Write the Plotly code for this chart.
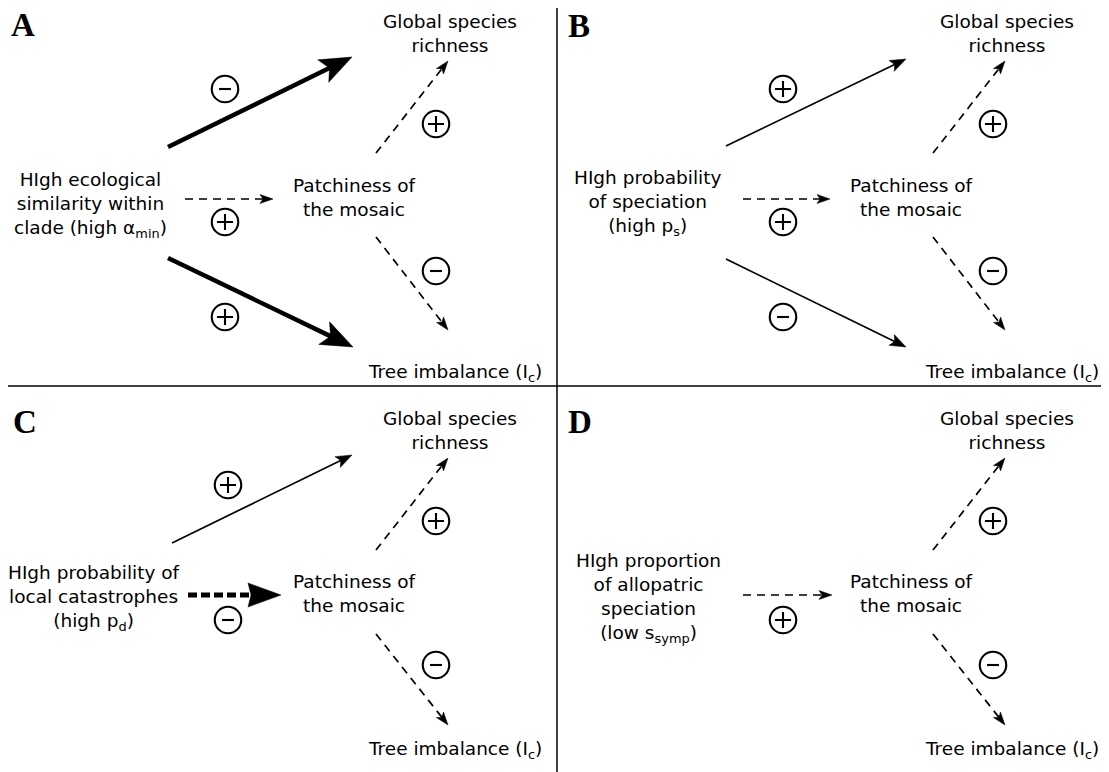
import numpy as np
import plotly.graph_objects as go

W, H = 1109, 772
PAGE_MARGIN = 8  # default body margin of the html page

# ---------------- data ----------------
panel_letters = ["A", "B", "C", "D"]
letter_x = [23, 579, 25, 580]
letter_y = [25, 26, 422, 422]

source_labels = [
    "HIgh ecological<br>similarity within<br>clade (high α<sub>min</sub>)",
    "HIgh probability<br>of speciation<br>(high p<sub>s</sub>)",
    "HIgh probability of<br>local catastrophes<br>(high p<sub>d</sub>)",
    "HIgh proportion<br>of allopatric<br>speciation<br>(low s<sub>symp</sub>)",
]
source_x = [90, 647, 94, 648]
source_y = [205, 203, 598, 598]

richness_label = "Global species<br>richness"
patch_label = "Patchiness of<br>the mosaic"
imbalance_label = "Tree imbalance (I<sub>c</sub>)"
richness_x = [450, 1007, 450, 1007]
richness_y = [33, 33, 430, 430]
patch_x = [354, 911, 354, 911]
patch_y = [197, 197, 593, 593]
imbal_x = [455, 1012, 455, 1012]
imbal_y = [373, 373, 750, 750]

# arrows: start -> tip
arrow_x0 = [168, 168, 185, 376, 376, 726, 726, 743, 933, 933, 172, 188, 376, 376, 743, 933, 933]
arrow_y0 = [147, 258, 199, 153, 237, 146, 259, 199, 153, 237, 543, 595, 550, 634, 595, 550, 634]
arrow_x1 = [352, 353, 273, 448, 448, 906, 906, 830, 1005, 1005, 352, 281, 448, 448, 832, 1005, 1005]
arrow_y1 = [57, 347, 199, 61, 330, 59, 347, 199, 61, 330, 455, 595, 458, 725, 595, 458, 725]
arrow_style = ["thick", "thick", "dash", "dash", "dash",
               "thin", "thin", "dash", "dash", "dash",
               "thin", "thickdash", "dash", "dash",
               "dash", "dash", "dash"]

# sign circles
sign_x = [225, 225, 225, 436, 436, 783, 783, 783, 993, 993, 228, 228, 436, 436, 783, 993, 993]
sign_y = [89, 222, 317, 124, 271, 89, 222, 317, 124, 271, 485, 620, 521, 665, 620, 521, 665]
sign_kind = ["-", "+", "+", "+", "-", "+", "+", "-", "+", "-", "+", "-", "+", "-", "+", "+", "-"]

# ---------------- styles ----------------
STY = {
    # width, dash, head length, head half width, notch
    "thick": (4.5, "solid", 32, 12.5, 7),
    "thin": (1.7, "solid", 16, 6, 3.5),
    "dash": (1.7, "8px,6px", 13, 4.5, 3),
    "thickdash": (5, "9px,4px", 33, 12, 3),
}
FONT = "DejaVu Sans"
FS = 18.5

fig = go.Figure()
shapes = []

for x0, y0, x1, y1, st in zip(arrow_x0, arrow_y0, arrow_x1, arrow_y1, arrow_style):
    lw, dash, L, hw, notch = STY[st]
    d = np.array([x1 - x0, y1 - y0], dtype=float)
    u = d / np.linalg.norm(d)
    n = np.array([-u[1], u[0]])
    tip = np.array([x1, y1], dtype=float)
    end = tip - u * (L - notch - 1)
    fig.add_trace(go.Scatter(x=[x0, end[0]], y=[y0, end[1]], mode="lines",
                             line=dict(color="black", width=lw, dash=dash),
                             hoverinfo="skip"))
    b1 = tip - u * L + n * hw
    b2 = tip - u * (L - notch)
    b3 = tip - u * L - n * hw
    path = "M{:.2f},{:.2f} L{:.2f},{:.2f} L{:.2f},{:.2f} L{:.2f},{:.2f} Z".format(
        tip[0], tip[1], b1[0], b1[1], b2[0], b2[1], b3[0], b3[1])
    shapes.append(dict(type="path", path=path, xref="x", yref="y",
                       fillcolor="black", line=dict(color="black", width=0.5)))

# sign circles
fig.add_trace(go.Scatter(x=sign_x, y=sign_y, mode="markers",
                         marker=dict(symbol="circle-open", size=26.5, color="black",
                                     line=dict(color="black", width=2.1)),
                         hoverinfo="skip"))
plus_x = [x for x, k in zip(sign_x, sign_kind) if k == "+"]
plus_y = [y for y, k in zip(sign_y, sign_kind) if k == "+"]
minus_x = [x for x, k in zip(sign_x, sign_kind) if k == "-"]
minus_y = [y for y, k in zip(sign_y, sign_kind) if k == "-"]
fig.add_trace(go.Scatter(x=plus_x, y=plus_y, mode="markers",
                         marker=dict(symbol="cross-thin-open", size=11.5, color="black",
                                     line=dict(color="black", width=2.1)),
                         hoverinfo="skip"))
fig.add_trace(go.Scatter(x=minus_x, y=minus_y, mode="markers",
                         marker=dict(symbol="line-ew-open", size=8.5, color="black",
                                     line=dict(color="black", width=2.1)),
                         hoverinfo="skip"))

# dividers
shapes.append(dict(type="line", xref="x", yref="y", x0=557, x1=557, y0=6, y1=H,
                   line=dict(color="black", width=1.5)))
shapes.append(dict(type="line", xref="x", yref="y", x0=0, x1=W, y0=386, y1=386,
                   line=dict(color="black", width=1.5)))

annotations = []
for t, x, y in zip(panel_letters, letter_x, letter_y):
    annotations.append(dict(text="<b>" + t + "</b>", x=x, y=y, xref="x", yref="y",
                            showarrow=False, xanchor="center", yanchor="middle",
                            font=dict(family="Liberation Serif", size=33, color="black")))
for t, x, y in zip(source_labels, source_x, source_y):
    annotations.append(dict(text=t, x=x, y=y, xref="x", yref="y", showarrow=False,
                            xanchor="center", yanchor="middle", align="center",
                            font=dict(family=FONT, size=FS, color="black")))
for i in range(4):
    annotations.append(dict(text=richness_label, x=richness_x[i], y=richness_y[i],
                            xref="x", yref="y", showarrow=False, xanchor="center",
                            yanchor="middle", align="center",
                            font=dict(family=FONT, size=FS, color="black")))
    annotations.append(dict(text=patch_label, x=patch_x[i], y=patch_y[i],
                            xref="x", yref="y", showarrow=False, xanchor="center",
                            yanchor="middle", align="center",
                            font=dict(family=FONT, size=FS, color="black")))
    annotations.append(dict(text=imbalance_label, x=imbal_x[i], y=imbal_y[i],
                            xref="x", yref="y", showarrow=False, xanchor="center",
                            yanchor="middle", align="center",
                            font=dict(family=FONT, size=FS, color="black")))

# the page puts the figure 8px from the top-left corner; shrink and offset the
# axes so that the data coordinates line up with the window pixels
fig.update_layout(
    width=W - PAGE_MARGIN, height=H - PAGE_MARGIN,
    margin=dict(l=0, r=0, t=0, b=0),
    paper_bgcolor="white", plot_bgcolor="white",
    showlegend=False,
    xaxis=dict(range=[PAGE_MARGIN, W], visible=False, fixedrange=True),
    yaxis=dict(range=[H, PAGE_MARGIN], visible=False, fixedrange=True),
    shapes=shapes,
    annotations=annotations,
)

fig.write_html("out.html", config={"displayModeBar": False})
